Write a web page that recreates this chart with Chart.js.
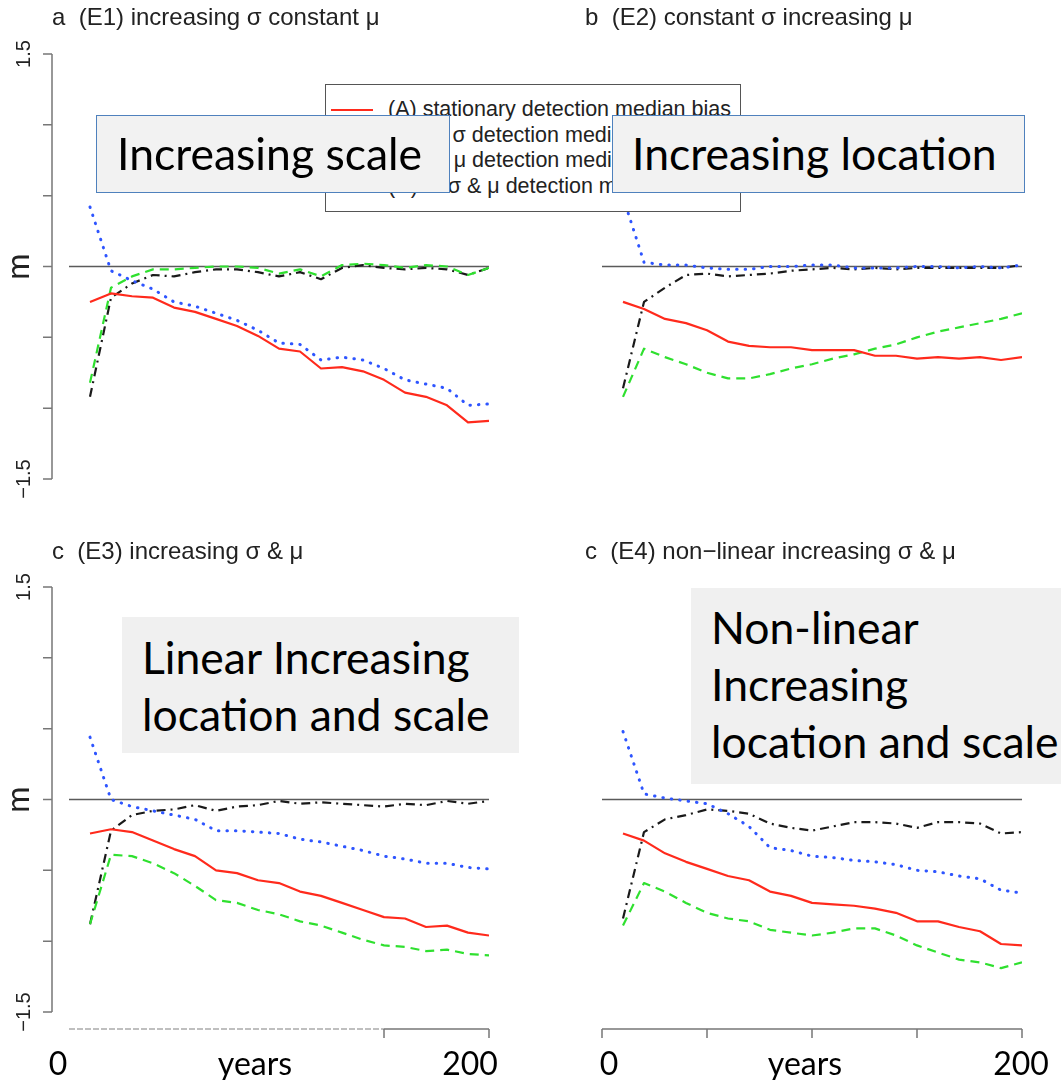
<!DOCTYPE html>
<html>
<head>
<meta charset="utf-8">
<script src="https://cdn.jsdelivr.net/npm/chart.js@4.4.0/dist/chart.umd.min.js"></script>
<style>
  body { margin: 0; background: #fff; width: 1061px; height: 1080px; position: relative; overflow: hidden; }
  canvas { position: absolute; }
  .legend { position: absolute; left: 325px; top: 84px; width: 416px; height: 128px; box-sizing: border-box;
            border: 1.5px solid #555; background: #fff; font: 21.5px "Liberation Sans", Arial, sans-serif; color: #222; }
  .legend .row { position: absolute; left: 0; height: 24px; line-height: 24px; white-space: pre; }
  .legend svg { position: absolute; left: 4px; top: 11px; }
  .legend span { position: absolute; left: 62px; }
  .note { position: absolute; box-sizing: border-box; font: 44.5px/57px Lato, sans-serif; color: #000; white-space: pre; overflow: hidden; }
</style>
</head>
<body>
<canvas id="panelA" width="530" height="530" style="left:0;top:0"></canvas>
<canvas id="panelB" width="531" height="530" style="left:530px;top:0"></canvas>
<canvas id="panelC" width="530" height="550" style="left:0;top:530px"></canvas>
<canvas id="panelD" width="531" height="550" style="left:530px;top:530px"></canvas>

<div class="legend" id="legend"></div>

<div class="note" style="left:96px;top:115px;width:354px;height:78px;background:#f2f2f2;border:1.5px solid #4f81bd;padding:8px 0 0 20px">Increasing scale</div>
<div class="note" style="left:612px;top:115px;width:413px;height:78px;background:#f2f2f2;border:1.5px solid #4f81bd;padding:8px 0 0 19px">Increasing location</div>
<div class="note" style="left:122px;top:617px;width:397px;height:136px;background:#f0f0f0;padding:11px 0 0 20px">Linear Increasing
location and scale</div>
<div class="note" style="left:691px;top:588px;width:370px;height:196px;background:#f0f0f0;padding:10px 0 0 20px">Non-linear
Increasing
location and scale</div>

<script>
// simulation years
var years = [10, 20, 30, 40, 50, 60, 70, 80, 90, 100, 110, 120, 130, 140, 150, 160, 170, 180, 190, 200];

var seriesNames = [
  "(A) stationary detection median bias",
  "(B)      σ detection median bias",
  "(C)      μ detection median bias",
  "(D)     σ & μ detection median bias"
];

// (E1) increasing sigma, constant mu
var e1A = [-0.25, -0.19, -0.21, -0.22, -0.29, -0.32, -0.37, -0.42, -0.49, -0.58, -0.6, -0.72, -0.71, -0.74, -0.8, -0.89, -0.92, -0.98, -1.1, -1.09];
var e1B = [-0.82, -0.15, -0.07, -0.02, -0.02, -0.01, 0, 0, -0.01, -0.05, -0.02, -0.07, 0.01, 0.02, 0.01, -0.01, 0.01, 0, -0.06, -0.01];
var e1C = [0.42, -0.03, -0.1, -0.16, -0.25, -0.28, -0.33, -0.38, -0.45, -0.54, -0.55, -0.66, -0.64, -0.66, -0.72, -0.8, -0.83, -0.86, -0.98, -0.97];
var e1D = [-0.92, -0.22, -0.12, -0.06, -0.07, -0.04, -0.02, -0.02, -0.04, -0.07, -0.04, -0.09, -0.01, 0.01, -0.01, -0.02, -0.01, -0.02, -0.06, -0.01];

// (E2) constant sigma, increasing mu
var e2A = [-0.25, -0.3, -0.37, -0.4, -0.45, -0.53, -0.56, -0.57, -0.57, -0.59, -0.59, -0.59, -0.63, -0.63, -0.65, -0.64, -0.65, -0.64, -0.66, -0.64];
var e2B = [-0.92, -0.58, -0.64, -0.69, -0.75, -0.79, -0.79, -0.76, -0.72, -0.69, -0.65, -0.62, -0.58, -0.55, -0.5, -0.46, -0.43, -0.4, -0.37, -0.33];
var e2C = [0.49, 0.03, 0.01, 0.01, -0.01, -0.02, -0.02, 0, 0, 0.01, 0.01, -0.01, -0.01, -0.01, 0, 0, -0.01, 0, -0.01, 0.01];
var e2D = [-0.86, -0.25, -0.15, -0.06, -0.05, -0.07, -0.06, -0.05, -0.03, -0.02, -0.01, -0.02, -0.01, -0.02, -0.01, -0.01, -0.01, -0.01, -0.01, 0.01];

// (E3) increasing sigma & mu
var e3A = [-0.24, -0.21, -0.23, -0.29, -0.35, -0.4, -0.5, -0.52, -0.57, -0.59, -0.65, -0.68, -0.73, -0.78, -0.83, -0.84, -0.9, -0.89, -0.94, -0.96];
var e3B = [-0.88, -0.39, -0.4, -0.45, -0.52, -0.61, -0.71, -0.73, -0.78, -0.81, -0.86, -0.89, -0.94, -0.99, -1.03, -1.04, -1.07, -1.06, -1.09, -1.1];
var e3C = [0.44, 0, -0.05, -0.08, -0.11, -0.14, -0.22, -0.22, -0.23, -0.24, -0.28, -0.3, -0.33, -0.36, -0.4, -0.42, -0.45, -0.45, -0.48, -0.49];
var e3D = [-0.88, -0.22, -0.11, -0.08, -0.07, -0.04, -0.08, -0.05, -0.04, -0.01, -0.03, -0.02, -0.03, -0.04, -0.05, -0.03, -0.04, -0.01, -0.03, -0.01];

// (E4) non-linear increasing sigma & mu
var e4A = [-0.24, -0.29, -0.38, -0.44, -0.49, -0.54, -0.57, -0.65, -0.68, -0.73, -0.74, -0.75, -0.77, -0.8, -0.86, -0.86, -0.9, -0.93, -1.02, -1.03];
var e4B = [-0.89, -0.59, -0.65, -0.73, -0.8, -0.84, -0.86, -0.92, -0.94, -0.96, -0.94, -0.91, -0.91, -0.96, -1.03, -1.08, -1.13, -1.15, -1.19, -1.15];
var e4C = [0.48, 0.04, 0.01, -0.01, -0.03, -0.1, -0.19, -0.34, -0.36, -0.4, -0.41, -0.43, -0.44, -0.46, -0.5, -0.51, -0.54, -0.56, -0.64, -0.66];
var e4D = [-0.84, -0.23, -0.14, -0.11, -0.07, -0.08, -0.1, -0.17, -0.2, -0.22, -0.19, -0.16, -0.16, -0.17, -0.2, -0.16, -0.16, -0.17, -0.24, -0.23];

// axis ticks
var yTickValues = [-1.5, -1, -0.5, 0, 0.5, 1, 1.5];
var yTickLabels = ["−1.5", "", "", "m", "", "", "1.5"];
var xTickValues = [0, 50, 100, 150, 200];
var xTickLabels = ["0", "years", "200"];

var lineStyles = [
  { color: "#ff2a1c", dash: [], width: 2.2, cap: "butt" },
  { color: "#2fe02f", dash: [9, 6], width: 2.2, cap: "butt" },
  { color: "#2e55ff", dash: [0.5, 8], width: 3, cap: "round" },
  { color: "#1a1a1a", dash: [9, 5, 2, 5], width: 2.2, cap: "butt" }
];

var rFont = '"Liberation Sans", Arial, sans-serif';

// R-style frame: zero line, left axis, bottom axis, titles
var rFrame = {
  id: "rFrame",
  beforeDatasetsDraw: function(chart, args, o) {
    var ctx = chart.ctx, x = chart.scales.x, y = chart.scales.y;
    var y0 = y.getPixelForValue(0);
    ctx.save();
    ctx.strokeStyle = "#5a5a5a";
    ctx.lineWidth = 1.6;
    ctx.beginPath();
    ctx.moveTo(x.getPixelForValue(0), y0);
    ctx.lineTo(x.getPixelForValue(200), y0);
    ctx.stroke();

    if (o.leftAxis) {
      var ax = x.getPixelForValue(0) - 17;
      ctx.strokeStyle = "#777";
      ctx.lineWidth = 1.5;
      ctx.beginPath();
      ctx.moveTo(ax, y.getPixelForValue(1.5));
      ctx.lineTo(ax, y.getPixelForValue(-1.5));
      yTickValues.forEach(function(v) {
        var py = y.getPixelForValue(v);
        ctx.moveTo(ax - 9, py);
        ctx.lineTo(ax, py);
      });
      ctx.stroke();
      ctx.fillStyle = "#222";
      ctx.textAlign = "center";
      ctx.textBaseline = "middle";
      yTickValues.forEach(function(v, i) {
        var lab = yTickLabels[i];
        if (!lab) return;
        ctx.save();
        var big = lab === "m";
        ctx.translate(big ? ax - 31 : ax - 28, y.getPixelForValue(v));
        ctx.rotate(-Math.PI / 2);
        ctx.font = big ? "32px Lato, sans-serif" : "20px " + rFont;
        ctx.fillText(lab, 0, big ? -2 : 0);
        ctx.restore();
      });
    }

    if (o.bottomAxis) {
      var ay = y.getPixelForValue(-1.5) + 17;
      var xa = x.getPixelForValue(0), xb = x.getPixelForValue(200);
      ctx.strokeStyle = "#777";
      ctx.lineWidth = 1.5;
      if (o.brokenAxis) {
        ctx.strokeStyle = "#aaa";
        ctx.setLineDash([6, 2]);
        ctx.beginPath();
        ctx.moveTo(xa, ay);
        ctx.lineTo(x.getPixelForValue(150), ay);
        ctx.stroke();
        ctx.setLineDash([]);
        ctx.strokeStyle = "#777";
        ctx.beginPath();
        ctx.moveTo(x.getPixelForValue(150), ay);
        ctx.lineTo(xb, ay);
        ctx.moveTo(x.getPixelForValue(150), ay);
        ctx.lineTo(x.getPixelForValue(150), ay + 9);
        ctx.moveTo(xb, ay);
        ctx.lineTo(xb, ay + 9);
        ctx.stroke();
      } else {
        ctx.beginPath();
        ctx.moveTo(xa, ay);
        ctx.lineTo(xb, ay);
        xTickValues.forEach(function(v) {
          var px = x.getPixelForValue(v);
          ctx.moveTo(px, ay);
          ctx.lineTo(px, ay + 9);
        });
        ctx.stroke();
      }
      ctx.fillStyle = "#000";
      ctx.font = "32px Lato, sans-serif";
      ctx.textAlign = "center";
      ctx.textBaseline = "middle";
      xTickLabels.forEach(function(lab, i) {
        ctx.fillText(lab, o.xLabelPos[i], ay + 36);
      });
    }
    ctx.restore();
  },
  afterDraw: function(chart, args, o) {
    var ctx = chart.ctx;
    ctx.save();
    ctx.fillStyle = "#222";
    ctx.font = "24px " + rFont;
    ctx.textAlign = "left";
    ctx.textBaseline = "middle";
    ctx.fillText(o.title, o.titleX, o.titleY);
    ctx.restore();
  }
};

function makeDatasets(list) {
  return list.map(function(vals, k) {
    var s = lineStyles[k];
    return {
      label: seriesNames[k],
      data: years.map(function(yr, i) { return { x: yr, y: vals[i] }; }),
      borderColor: s.color,
      borderWidth: s.width,
      borderDash: s.dash,
      borderCapStyle: s.cap,
      borderJoinStyle: "round",
      pointRadius: 0,
      tension: 0,
      fill: false
    };
  });
}

function panel(id, series, pad, frame) {
  return new Chart(document.getElementById(id), {
    type: "line",
    data: { datasets: makeDatasets(series) },
    options: {
      responsive: false,
      animation: false,
      events: [],
      layout: { padding: pad },
      scales: {
        x: { type: "linear", min: 0, max: 200, display: false },
        y: { min: -1.5, max: 1.5, display: false }
      },
      plugins: {
        legend: { display: false },
        tooltip: { enabled: false },
        rFrame: frame
      }
    },
    plugins: [rFrame]
  });
}

panel("panelA", [e1A, e1B, e1C, e1D], { left: 69, right: 41, top: 54, bottom: 51 },
  { title: "a  (E1) increasing σ constant μ", titleX: 52, titleY: 18, leftAxis: true });
panel("panelB", [e2A, e2B, e2C, e2D], { left: 72, right: 39, top: 54, bottom: 51 },
  { title: "b  (E2) constant σ increasing μ", titleX: 55, titleY: 18 });
panel("panelC", [e3A, e3B, e3C, e3D], { left: 69, right: 41, top: 57, bottom: 68 },
  { title: "c  (E3) increasing σ & μ", titleX: 52, titleY: 22, leftAxis: true, bottomAxis: true,
    brokenAxis: true, xLabelPos: [58, 255, 470] });
panel("panelD", [e4A, e4B, e4C, e4D], { left: 72, right: 39, top: 57, bottom: 68 },
  { title: "c  (E4) non−linear increasing σ & μ", titleX: 55, titleY: 22, bottomAxis: true,
    xLabelPos: [79, 275, 491] });

// legend drawn with the same line styles as the series
var legend = document.getElementById("legend");
seriesNames.forEach(function(name, k) {
  var s = lineStyles[k];
  var row = document.createElement("div");
  row.className = "row";
  row.style.top = (12 + k * 25.5) + "px";
  row.style.width = "410px";
  row.innerHTML = '<svg width="44" height="4"><line x1="1" y1="2" x2="43" y2="2" stroke="' + s.color +
    '" stroke-width="' + s.width + '" stroke-dasharray="' + (s.dash.join(" ") || "none") +
    '" stroke-linecap="' + s.cap + '"/></svg><span>' + name + '</span>';
  legend.appendChild(row);
});
</script>
</body>
</html>
